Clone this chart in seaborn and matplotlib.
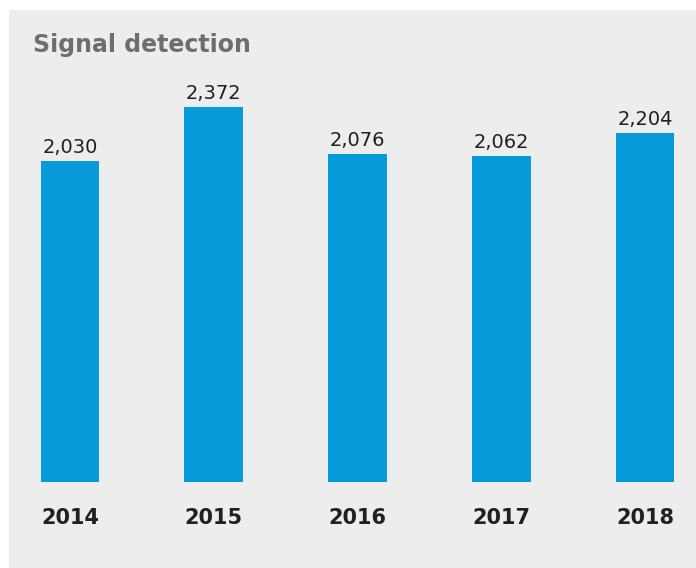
import matplotlib
matplotlib.use("Agg")
import matplotlib.pyplot as plt
import seaborn as sns
import pandas as pd
from matplotlib.patches import Rectangle

years = ["2014", "2015", "2016", "2017", "2018"]
signals = [2030, 2372, 2076, 2062, 2204]
title = "Signal detection"

panel_color = "#ededed"
bar_color = "#069bd8"
text_color = "#231f20"
title_color = "#6d6e71"

sns.set_theme(style="white")
plt.rcParams["font.family"] = ["DejaVu Sans"]

W, H = 696, 568
fig = plt.figure(figsize=(W / 100, H / 100), dpi=100, facecolor="white")

# grey panel behind the chart
px0, py0 = 9, 10
fig.patches.append(Rectangle((px0 / W, 0), 1 - px0 / W, 1 - py0 / H,
                             transform=fig.transFigure, facecolor=panel_color,
                             edgecolor="none", zorder=-5))

# plotting area: bar baseline at y=482 px, top of panel at y=10 px
base = 482
ax = fig.add_axes([px0 / W, 1 - base / H, 1 - px0 / W, (base - py0) / H])
ax.set_facecolor("none")
ax.set_zorder(2)

df = pd.DataFrame({"year": years, "signals": signals})
sns.barplot(data=df, x="year", y="signals", order=years, color=bar_color,
            saturation=1, width=0.41, linewidth=0, ax=ax)

ax.set_xlim(-0.4243, 4.355)
ax.set_ylim(0, 2984.5)

for p, v in zip(ax.patches, signals):
    ax.annotate(f"{v:,}", (p.get_x() + p.get_width() / 2, v),
                xytext=(0, 3), textcoords="offset points",
                ha="center", va="bottom", fontsize=14, color=text_color)

ax.set_xticks(range(len(years)))
ax.set_xticklabels(years, fontsize=15, fontweight="bold", color=text_color)
ax.tick_params(axis="x", length=0, pad=18.5)
ax.set_yticks([])
ax.set_xlabel("")
ax.set_ylabel("")
for s in ax.spines.values():
    s.set_visible(False)

fig.text(33 / W, 1 - 52 / H, title, fontsize=17, fontweight="bold",
         color=title_color, ha="left", va="baseline")

fig.savefig("out.png", dpi=100, facecolor="white")
